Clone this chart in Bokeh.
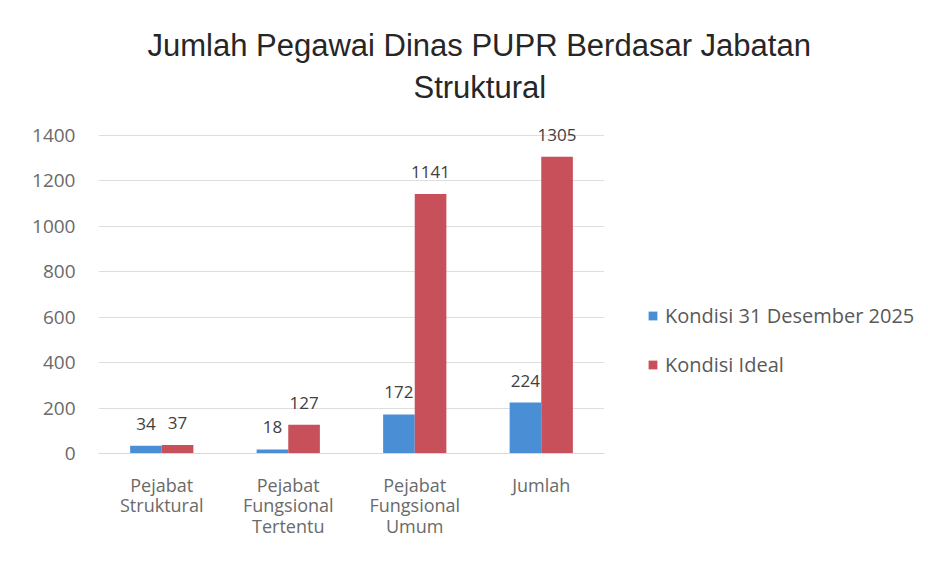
from bokeh.plotting import figure
from bokeh.models import (ColumnDataSource, FactorRange, Range1d, FixedTicker, LabelSet,
                          Title, Legend, LegendItem)
from bokeh.transform import dodge
from bokeh.embed import file_html
from bokeh.resources import INLINE
from bokeh.core.properties import value

# ---- data ----
categories = ["Pejabat\nStruktural", "Pejabat\nFungsional\nTertentu",
              "Pejabat\nFungsional\nUmum", "Jumlah"]
series_names = ["Kondisi 31 Desember 2025", "Kondisi Ideal"]
kondisi_2025 = [34, 18, 172, 224]
kondisi_ideal = [37, 127, 1141, 1305]
y_ticks = [0, 200, 400, 600, 800, 1000, 1200, 1400]
title_lines = ["Jumlah Pegawai Dinas PUPR Berdasar Jabatan", "Struktural"]

BLUE = "#4a8fd6"
RED = "#c8505a"
FONT = "Open Sans"

src = ColumnDataSource(dict(cat=categories, a=kondisi_2025, b=kondisi_ideal,
                            a_txt=[str(v) for v in kondisi_2025],
                            b_txt=[str(v) for v in kondisi_ideal]))

p = figure(frame_width=506, frame_height=341, output_backend="svg", toolbar_location=None,
           x_range=FactorRange(factors=categories, range_padding=0),
           y_range=Range1d(0, 1500),
           min_border_left=98, min_border_right=0, min_border_top=112, min_border_bottom=93)
p.outline_line_color = None
p.background_fill_color = "white"
p.border_fill_color = "white"

bw = 0.25
r1 = p.vbar(x=dodge("cat", -bw / 2, range=p.x_range), top="a", width=bw, source=src,
            fill_color=BLUE, line_color=None)
r2 = p.vbar(x=dodge("cat", bw / 2, range=p.x_range), top="b", width=bw, source=src,
            fill_color=RED, line_color=None)

for col, txt, off in (("a", "a_txt", -bw / 2), ("b", "b_txt", bw / 2)):
    p.add_layout(LabelSet(x=dodge("cat", off, range=p.x_range), y=col, text=txt, source=src,
                          y_offset=22, text_align="center", text_baseline="middle",
                          text_font=value(FONT), text_font_size="17px", text_color="#404040"))

# axes
p.yaxis.ticker = FixedTicker(ticks=y_ticks)
p.yaxis.axis_line_color = None
p.yaxis.major_tick_line_color = None
p.yaxis.minor_tick_line_color = None
p.yaxis.major_tick_out = 0
p.yaxis.major_label_standoff = 23
p.yaxis.major_label_text_font = FONT
p.yaxis.major_label_text_font_size = "19px"
p.yaxis.major_label_text_color = "#6a6a6a"

p.xaxis.axis_line_color = "#d9d9d9"
p.xaxis.major_tick_line_color = None
p.xaxis.major_tick_out = 0
p.xaxis.major_label_standoff = 19
p.xaxis.major_label_text_font = FONT
p.xaxis.major_label_text_font_size = "18px"
p.xaxis.major_label_text_line_height = 0.86
p.xaxis.major_label_text_color = "#6a6a6a"
p.xgrid.grid_line_color = None
p.ygrid.grid_line_color = "#dedede"
p.ygrid.ticker = FixedTicker(ticks=y_ticks)

# title (two lines, the lower one added first so it sits closest to the plot)
p.add_layout(Title(text=title_lines[1], align="left", offset=315, standoff=15,
                   text_font="Liberation Sans", text_font_size="31px",
                   text_font_style="normal", text_color="#262626"), "above")
p.add_layout(Title(text=title_lines[0], align="left", offset=49, standoff=-5,
                   text_font="Liberation Sans", text_font_size="31px",
                   text_font_style="normal", text_color="#262626"), "above")

legend = Legend(items=[LegendItem(label=series_names[0], renderers=[r1]),
                       LegendItem(label=series_names[1], renderers=[r2])],
                location=(43, 75), orientation="vertical",
                glyph_width=11, glyph_height=11, label_standoff=7,
                label_height=26, spacing=22, padding=0, margin=0,
                label_text_font=FONT, label_text_font_size="20px", label_text_color="#595959",
                border_line_color=None, background_fill_alpha=0)
p.add_layout(legend, "right")

open("out.html", "w").write(file_html(p, INLINE))
